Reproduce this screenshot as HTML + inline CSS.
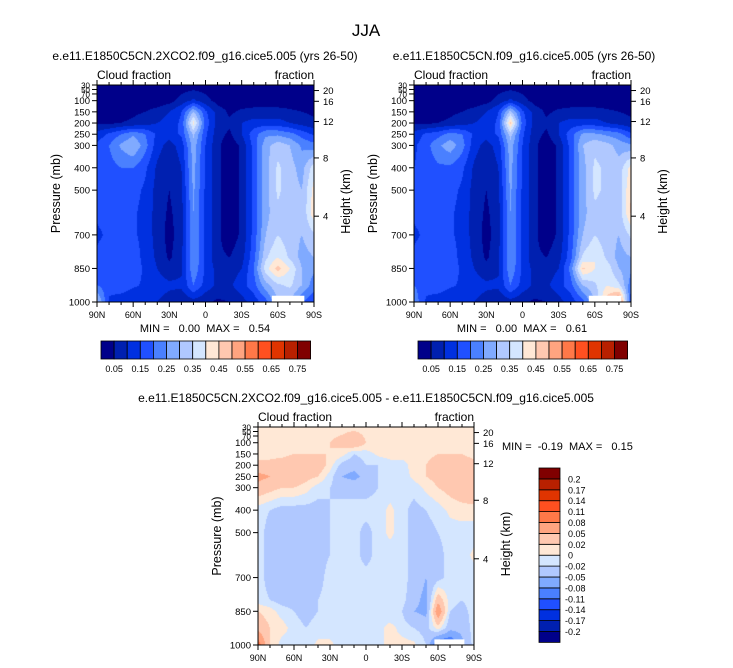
<!DOCTYPE html>
<html><head><meta charset="utf-8">
<style>
html,body{margin:0;padding:0;background:#fff;}
#root{position:relative;width:733px;height:668px;overflow:hidden;background:#fff;font-family:"Liberation Sans",Arial,sans-serif;}
canvas{position:absolute;}
svg{position:absolute;left:0;top:0;}
</style></head>
<body>
<div id="root">
<canvas id="c1" width="217" height="217" style="left:97px;top:85px"></canvas>
<canvas id="c2" width="217" height="217" style="left:414px;top:85px"></canvas>
<canvas id="c3" width="216" height="218" style="left:258px;top:427px"></canvas>
<svg id="ov" width="733" height="668"></svg>
</div>
<script>
// ---- data ----
const lats = [90,80,70,60,50,40,30,20,10,0,-10,-20,-30,-40,-50,-60,-70,-80,-90];
const levels = [30,100,150,200,250,300,400,500,600,700,800,850,925,1000];
const cloud2xco2 = [
[2,2,2,2,2,2,2,2,2,2,2,2,2,2,2,2,2,2,2],
[2,2,2,2,2,2,3,7,11,7,3,2,2,2,2,2,2,2,2],
[3,3,3,4,5,7,10,15,30,16,8,4,6,7,7,7,6,5,4],
[4,4,5,6,8,10,12,16,42,18,8,6,10,12,12,12,10,8,6],
[12,16,20,24,20,14,12,16,31,16,7,4,10,18,24,24,22,18,14],
[16,20,26,30,22,12,8,12,28,15,6,2,6,17,28,33,30,24,22],
[16,18,20,20,16,9,6,10,27,14,6,2,6,17,28,36,32,28,38],
[15,16,17,17,14,8,5,9,26,14,6,2,6,17,28,36,32,30,42],
[16,17,18,16,13,8,4,8,25,14,6,2,6,17,28,34,32,30,44],
[14,16,17,16,13,8,3,8,25,14,6,2,6,17,30,35,32,30,34],
[16,18,20,18,13,9,4,9,25,14,6,5,8,18,34,40,34,28,30],
[18,16,19,18,14,10,7,9,24,14,8,7,10,20,38,47,40,30,26],
[20,17,18,16,14,12,11,11,20,13,9,9,13,18,28,34,36,30,22],
[32,14,12,10,10,10,8,6,8,6,4,5,8,12,18,30,30,20,16]];
const cloudControl = [
[2,2,2,2,2,2,2,2,2,2,2,2,2,2,2,2,2,2,2],
[2,2,2,2,2,2,3,7,11,7,3,2,2,2,2,2,2,2,2],
[3,3,3,4,5,7,10,15,32,16,8,4,6,7,7,7,6,5,4],
[4,4,5,6,8,10,12,16,46,18,8,6,10,12,12,12,10,8,6],
[12,16,18,22,20,14,12,16,32,16,7,4,10,18,26,26,24,22,16],
[14,18,24,28,22,12,8,12,28,15,6,2,6,17,30,34,32,28,26],
[15,17,19,19,16,9,6,10,27,14,6,2,6,17,28,36,34,32,42],
[15,16,17,17,14,8,5,9,26,14,6,2,6,17,28,36,34,32,45],
[16,17,18,16,13,8,4,8,25,14,6,2,6,17,28,34,33,32,46],
[14,16,17,16,13,8,3,8,25,14,6,2,6,17,30,35,32,30,36],
[16,18,20,18,13,9,4,9,25,14,6,5,8,18,36,40,34,28,30],
[18,16,19,18,14,10,7,9,24,14,8,7,10,22,46,40,38,30,26],
[20,17,18,16,14,12,11,11,20,13,9,9,13,18,30,34,40,36,22],
[24,14,12,10,10,10,8,6,8,6,4,5,8,12,18,30,48,60,16]];
const cloudDiff = [
[1,1,1,1,1,1,1,1,1,1,1,1,1,1,1,1,1,1,1],
[1,1,1,1,1,1,2,3,5,2,1,1,1,1,1,1,1,1,1],
[1,1,1,2,2,2,2,1,-2,-1,0.5,1,1,1,1,2,2,2,1],
[3,3,4,5,4,4,1,-3,-4,-2,-2,-1,-1,1,2,4,5,4,3],
[6,5,4,4,3,2,-1,-5,-6,-4,-2,-1,-1,0.5,2,3,4,5,5],
[4,3,2,2,1,-1,-2,-3,-3,-3,-2,-1,-1,-1,0.5,2,3,4,5],
[-1,-2,-3,-3,-3,-3,-2,-1,-1,-1,-1,0.5,-1,-3,-2,-1,0.5,1,1],
[-1,-3,-3,-3,-3,-3,-2,-1,-1,-3,-1,0.5,-1,-3,-3,-2,-1,-1,-1],
[-1,-3,-3,-3,-3,-3,-2,-1,-1,-3,-1,-1,-1,-3,-5,-3,-1,-1,0.5],
[-1,-3,-3,-3,-3,-3,-1,-1,-1,-1,-1,-1,-1,-3,-5,-3,-1,-1,-1],
[-1,-2,-3,-3,-3,-2,-1,-1,-1,-1,-1,-1,-1,-4,-6,4,-1,-2,-1],
[2,1,-1,-2,-3,-2,-1,-1,-1,-1,-1,-2,-2,-5,-6,8,-2,-3,-1],
[4,2,1,-1,-2,-1,-1,-1,-1,-1,-1,1,-1,-2,-3,1,-4,-4,-1],
[10,2,-1,-1,-1,0.5,0.5,-1,-1,-1,-1,1,1,0.5,-2,-12,-12,-6,-1]];
const absLevels = [0.05,0.1,0.15,0.2,0.25,0.3,0.35,0.4,0.45,0.5,0.55,0.6,0.65,0.7,0.75];
const absLabels = ["0.05","0.15","0.25","0.35","0.45","0.55","0.65","0.75"];
const diffLevels = [-0.2,-0.17,-0.14,-0.11,-0.08,-0.05,-0.02,0,0.02,0.05,0.08,0.11,0.14,0.17,0.2];
const diffLabels = ["-0.2","-0.17","-0.14","-0.11","-0.08","-0.05","-0.02","0","0.02","0.05","0.08","0.11","0.14","0.17","0.2"];
const palette = ["#00008a","#0020b0","#0030e0","#2050ff","#4a80ff","#80aaff","#b0c8ff","#d4e6ff","#ffe8d6","#ffc8b0","#ffa480","#ff7848","#ff5020","#e03400","#b82000","#800000"];
const pTicks = [30,50,70,100,150,200,250,300,400,500,700,850,1000];
const zTicks = [4,8,12,16,20];
const xTickLats = [90,60,30,0,-30,-60,-90];
const xTickLabels = ["90N","60N","30N","0","30S","60S","90S"];

function hex(c){return [parseInt(c.substr(1,2),16),parseInt(c.substr(3,2),16),parseInt(c.substr(5,2),16)];}
const palRGB = palette.map(hex);
function binOf(v,lv){let b=0;for(const t of lv){if(v>=t)b++;}return b;}

function drawField(id, grid, lv){
  const cv=document.getElementById(id), ctx=cv.getContext('2d');
  const W=cv.width,H=cv.height, img=ctx.createImageData(W,H);
  for(let y=0;y<H;y++){
    const p=30+(y+0.5)/H*970;
    let k=0; while(k<levels.length-2 && levels[k+1]<p)k++;
    const fy=Math.min(1,Math.max(0,(p-levels[k])/(levels[k+1]-levels[k])));
    for(let x=0;x<W;x++){
      const lat=90-(x+0.5)/W*180;
      const fi=(90-lat)/10; let i=Math.min(lats.length-2,Math.floor(fi)); const fx=fi-i;
      const v=((grid[k][i]*(1-fx)+grid[k][i+1]*fx)*(1-fy)+(grid[k+1][i]*(1-fx)+grid[k+1][i+1]*fx)*fy)/100;
      const c=palRGB[binOf(v,lv)], o=(y*W+x)*4;
      img.data[o]=c[0];img.data[o+1]=c[1];img.data[o+2]=c[2];img.data[o+3]=255;
    }
  }
  ctx.putImageData(img,0,0);
}
drawField('c1',cloud2xco2,absLevels);
drawField('c2',cloudControl,absLevels);
drawField('c3',cloudDiff,diffLevels);

const NS="http://www.w3.org/2000/svg", svg=document.getElementById('ov');
function el(tag,attrs,parent){const e=document.createElementNS(NS,tag);for(const k in attrs)e.setAttribute(k,attrs[k]);(parent||svg).appendChild(e);return e;}
function txt(s,x,y,size,anchor,parent,rot){const t=el('text',{x:x,y:y,'font-size':size,'text-anchor':anchor||'middle',fill:'#000','font-family':'Liberation Sans, Arial, sans-serif'},parent);if(rot)t.setAttribute('transform','rotate(-90 '+x+' '+y+')');t.textContent=s;return t;}
function zToP(z){if(z<=11)return 1013.25*Math.pow(1-2.25577e-5*z*1000,5.25588);return 226.32*Math.exp(-(z-11)*1000/6341.6);}

function axes(name,x0,y0,w,h,missing){
  const g=el('g',{});
  
  
  const py=p=>y0+(p-30)/970*h, lx=l=>x0+(90-l)/180*w;
  if(missing){const r=el('rect',{x:lx(missing[0]),y:py(missing[1]),width:lx(missing[2])-lx(missing[0]),height:y0+h-py(missing[1]),fill:'#fff'},g);
    
    }
  el('rect',{x:x0,y:y0,width:w,height:h,fill:'none',stroke:'#000','stroke-width':1},g);
  for(const p of pTicks){const y=py(p);el('line',{x1:x0-5,x2:x0,y1:y,y2:y,stroke:'#000'},g);
    const t=txt(String(p),x0-7,y+3.5,p<100?8:9.5,'end',g);
    
    }
  for(const z of zTicks){const y=py(zToP(z));el('line',{x1:x0+w,x2:x0+w+5,y1:y,y2:y,stroke:'#000'},g);
    const t=txt(String(z),x0+w+9,y+3.5,9.5,'start',g);
    
    }
  for(let l=90;l>=-90;l-=10){const x=lx(l),L=(l%30===0)?5:3;
    el('line',{x1:x,x2:x,y1:y0+h,y2:y0+h+L,stroke:'#000'},g);
    el('line',{x1:x,x2:x,y1:y0,y2:y0-L,stroke:'#000'},g);}
  xTickLats.forEach((l,i)=>{const t=txt(xTickLabels[i],lx(l),y0+h+16,9,'middle',g);
    
    });
  const a=txt('Pressure (mb)',x0-37,y0+h/2,12.5,'middle',g,true);
  
  
  const b=txt('Height (km)',x0+w+36,y0+h/2+8,12.5,'middle',g,true);
  
  
  const c=txt('Cloud fraction',x0,y0-6,12,'start',g);
  
  
  const d=txt('fraction',x0+w,y0-6,12,'end',g);
  
  
}
axes('panel-2xco2-axes',97,85,217,217,[-55,972,-82]);
axes('panel-control-axes',414,85,217,217,[-55,972,-82]);
axes('panel-diff-axes',258,427,216,218,[-57,975,-82]);

const t0=txt('JJA',366,36,17);


const t1=txt('e.e11.E1850C5CN.2XCO2.f09_g16.cice5.005 (yrs 26-50)',205,60,12);


const t2=txt('e.e11.E1850C5CN.f09_g16.cice5.005 (yrs 26-50)',524,60,12);


const t3=txt('e.e11.E1850C5CN.2XCO2.f09_g16.cice5.005 - e.e11.E1850C5CN.f09_g16.cice5.005',366,402,12);


const m1=txt('MIN =   0.00  MAX =   0.54',205,332,11);


m1.style.whiteSpace='pre';
const m2=txt('MIN =   0.00  MAX =   0.61',522,332,11);


m2.style.whiteSpace='pre';
const m3=txt('MIN =  -0.19  MAX =   0.15',502,450,11,'start');


m3.style.whiteSpace='pre';

function hbar(name,x0,y0,bw,bh){
  const g=el('g',{});
  
  
  palette.forEach((c,i)=>{const r=el('rect',{x:x0+i*bw,y:y0,width:bw,height:bh,fill:c,stroke:'#000','stroke-width':0.8},g);
    
    });
  absLabels.forEach((s,i)=>{const t=txt(s,x0+(1+2*i)*bw,y0+bh+13,9,'middle',g);
    
    });
}
hbar('colorbar-2xco2',101,341,13.1,18);
hbar('colorbar-control',418,341,13.1,18);

(function(){
  const g=el('g',{});
  
  
  const x0=539,y0=468,bw=21,bh=10.9,n=palette.length;
  palette.forEach((c,i)=>{const r=el('rect',{x:x0,y:y0+(n-1-i)*bh,width:bw,height:bh,fill:c,stroke:'#000','stroke-width':0.8},g);
    
    });
  diffLabels.forEach((s,i)=>{const y=y0+(n-1-i)*bh;const t=txt(s,x0+bw+5+(s[0]==='-'?0:3),y+3.5,9,'start',g);
    
    });
})();
</script>
</body></html>
